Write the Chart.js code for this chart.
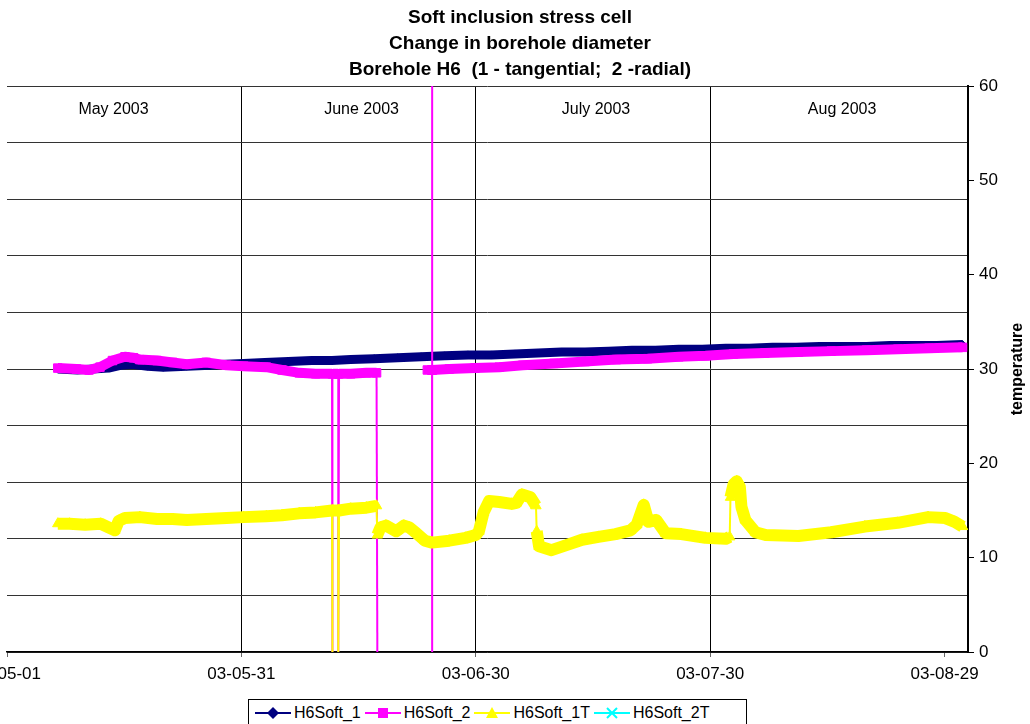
<!DOCTYPE html>
<html>
<head>
<meta charset="utf-8">
<script src="https://cdn.jsdelivr.net/npm/chart.js@4.4.0/dist/chart.umd.min.js"></script>
<style>
  body { margin: 0; width: 1030px; height: 724px; overflow: hidden; background: #fff; position: relative; }
  #chart1 { position: absolute; left: -60px; top: 0; }
  #legend {
    position: absolute; left: 248px; top: 699px; width: 499px; height: 40px;
    border: 1px solid #000; background: #fff; display: flex; align-items: flex-start;
    padding: 4px 0 0 6px; box-sizing: border-box;
    font: 16px "Liberation Sans", Arial, sans-serif; color: #000;
  }
  #legend span { display: inline-flex; align-items: center; margin-right: 4px; }
  #legend svg { margin-right: 3px; }
</style>
</head>
<body>
<canvas id="chart1" width="1160" height="724"></canvas>
<div id="legend">
  <span><svg width="36" height="14"><line x1="0" y1="7" x2="36" y2="7" stroke="#000080" stroke-width="2"/><polygon points="18,1 24,7 18,13 12,7" fill="#000080"/></svg>H6Soft_1</span>
  <span><svg width="36" height="14"><line x1="0" y1="7" x2="36" y2="7" stroke="#FF00FF" stroke-width="2"/><rect x="13" y="2" width="10" height="10" fill="#FF00FF"/></svg>H6Soft_2</span>
  <span><svg width="36" height="14"><line x1="0" y1="7" x2="36" y2="7" stroke="#FFFF00" stroke-width="2"/><polygon points="18,1 24,12 12,12" fill="#FFFF00"/></svg>H6Soft_1T</span>
  <span><svg width="36" height="14"><line x1="0" y1="7" x2="36" y2="7" stroke="#00FFFF" stroke-width="2"/><path d="M13 2 L23 12 M23 2 L13 12" stroke="#00FFFF" stroke-width="2"/></svg>H6Soft_2T</span>
</div>
<script>
// day 0 = 2003-05-01
const startDate = Date.UTC(2003, 4, 1);

const chartTitle = ['Soft inclusion stress cell', 'Change in borehole diameter', 'Borehole H6  (1 - tangential;  2 -radial)'];
const yTitle = 'temperature';
const monthLabels = ['May 2003', 'June 2003', 'July 2003', 'Aug 2003'];
const monthEdges = [-3.5, 30, 60, 90, 123];
const dividerDays = [30, 60, 90];

// H6Soft_1
const soft1Days = [6.5, 9, 11, 13, 14.5, 16, 18, 20, 23, 26, 28, 30.3, 33, 36, 39, 41.6, 44, 47, 50, 53,
  56, 59, 62, 65, 68, 71, 74, 77, 80, 83, 86, 89, 92, 95, 98, 101, 104, 107, 110, 113, 116, 119, 122.3];
const soft1Values = [30.0, 29.9, 30.0, 30.1, 30.4, 30.5, 30.3, 30.2, 30.3, 30.4, 30.5, 30.6, 30.7, 30.8, 30.9, 30.9, 31.0, 31.1, 31.2, 31.3,
  31.4, 31.5, 31.5, 31.6, 31.7, 31.8, 31.8, 31.9, 32.0, 32.0, 32.1, 32.1, 32.2, 32.2, 32.3, 32.3, 32.4, 32.4, 32.4, 32.5, 32.5, 32.5, 32.6];

// H6Soft_2
const soft2Days = [6.5, 8.9, 10.5, 11.9, 13.5, 15.1, 16.2, 17.0, 19.2, 21.2, 23.0, 25.5, 28.1, 30.3, 33.2, 35.2, 37.4, 39.5,
  41.6, 41.6, 41.7, 42.4, 42.4, 42.5, 44.0, 46.0, 47.3, 47.4, 50.0, 53.8, 54.4, 54.4, 54.4, 54.45, 56.6, 59.9,
  63.0, 66.0, 70.0, 74.0, 78.0, 82.0, 86.0, 89.4, 93.0, 97.0, 101.3, 105.5, 110.0, 114.0, 118.0, 122.3];
const soft2Values = [30.1, 30.0, 29.9, 30.2, 30.9, 31.3, 31.2, 31.0, 30.9, 30.7, 30.5, 30.7, 30.4, 30.3, 30.2, 29.9, 29.6, 29.5,
  29.5, 0, 29.5, 29.5, 0, 29.5, 29.5, 29.6, 29.6, 0, null, 29.9, 29.9, 0, 60.5, 29.9, 30.0, 30.1,
  30.2, 30.4, 30.6, 30.8, 31.0, 31.1, 31.3, 31.4, 31.6, 31.7, 31.8, 31.9, 32.0, 32.1, 32.2, 32.3];

// H6Soft_1T
const soft1TDays = [6.5, 8.0, 10.0, 12.0, 13.8, 14.3, 15.1, 17.0, 19.2, 21.2, 23.0, 25.5, 28.1, 30.3, 33.2, 35.2, 37.4, 39.5,
  41.6, 41.6, 41.7, 42.4, 42.4, 42.5, 44.0, 46.0, 47.3, 47.4, 47.8, 48.5, 49.8, 50.8, 51.5, 52.4, 53.5, 54.4,
  56.6, 58.7, 60.0, 60.4, 61.0, 61.7, 63.0, 64.6, 65.2, 65.9, 67.0, 67.7, 67.8, 68.1, 69.7, 71.5, 73.6, 75.7,
  77.9, 79.8, 80.6, 81.5, 82.1, 83.1, 84.3, 86.3, 89.4, 92.0, 92.5, 92.6, 93.0, 93.4, 93.8, 94.0, 94.5, 95.8,
  97.1, 101.3, 105.5, 109.8, 114.0, 117.9, 120.1, 121.3, 122.3];
const soft1TValues = [13.6, 13.6, 13.5, 13.6, 12.9, 13.9, 14.2, 14.3, 14.1, 14.1, 14.0, 14.1, 14.2, 14.3, 14.4, 14.5, 14.7, 14.8,
  15.0, 0, 15.0, 15.0, 0, 15.0, 15.2, 15.3, 15.5, 12.4, 13.2, 13.4, 12.8, 13.4, 13.2, 12.6, 11.8, 11.6,
  11.8, 12.1, 12.4, 12.8, 14.8, 16.0, 15.9, 15.7, 15.8, 16.7, 16.4, 15.5, 12.8, 11.2, 10.8, 11.3, 11.9, 12.2,
  12.5, 12.9, 13.5, 15.6, 13.8, 14.0, 12.6, 12.5, 12.1, 12.0, 12.2, 16.4, 17.8, 18.1, 17.5, 15.4, 14.0, 12.7,
  12.4, 12.3, 12.7, 13.3, 13.7, 14.3, 14.2, 13.8, 13.3];

// H6Soft_2T has no readings in this period
const soft2TDays = [];
const soft2TValues = [];

function toPoints(days, values) {
  return days.map((d, i) => ({ x: d, y: values[i] }));
}

function dayLabel(v) {
  const dt = new Date(startDate + v * 86400000);
  const yy = String(dt.getUTCFullYear()).slice(2);
  const mm = String(dt.getUTCMonth() + 1).padStart(2, '0');
  const dd = String(dt.getUTCDate()).padStart(2, '0');
  return yy + '-' + mm + '-' + dd;
}

// thick band for the logged trace, thin line where the reading jumps
function series(label, points, color, style, radius, thick, order) {
  return {
    label: label,
    data: points,
    borderColor: color,
    backgroundColor: color,
    pointStyle: style,
    pointRadius: (c) => {
      const v = c.raw ? c.raw.y : null;
      return (v === null || v <= 0 || v > 60) ? 0 : radius;
    },
    pointBorderWidth: 1,
    borderWidth: thick,
    borderJoinStyle: 'round',
    segment: {
      borderWidth: (c) => Math.abs(c.p1.x - c.p0.x) < 1.5 ? 2 : thick
    },
    spanGaps: false,
    tension: 0,
    order: order
  };
}

const bandLabels = {
  id: 'bandLabels',
  afterDraw(chart) {
    const { ctx, chartArea, scales } = chart;
    ctx.save();
    ctx.fillStyle = '#000';
    ctx.textAlign = 'center';
    ctx.textBaseline = 'middle';
    ctx.font = '16px "Liberation Sans", Arial, sans-serif';
    monthLabels.forEach((label, i) => {
      const mid = (monthEdges[i] + monthEdges[i + 1]) / 2;
      ctx.fillText(label, scales.x.getPixelForValue(mid) + 3, chartArea.top + 24);
    });
    ctx.translate(chartArea.right + 50, (chartArea.top + chartArea.bottom) / 2);
    ctx.rotate(-Math.PI / 2);
    ctx.font = 'bold 16px "Liberation Sans", Arial, sans-serif';
    ctx.fillText(yTitle, 0, 0);
    ctx.restore();
  }
};

Chart.defaults.font.family = '"Liberation Sans", Arial, sans-serif';
Chart.defaults.color = '#000';

new Chart(document.getElementById('chart1'), {
  type: 'line',
  data: {
    datasets: [
      series('H6Soft_1', toPoints(soft1Days, soft1Values), '#000080', 'rectRot', 4, 9, 4),
      series('H6Soft_2', toPoints(soft2Days, soft2Values), '#FF00FF', 'rect', 6, 10, 3),
      series('H6Soft_1T', toPoints(soft1TDays, soft1TValues), '#FFFF00', 'triangle', 6, 12, 2),
      series('H6Soft_2T', toPoints(soft2TDays, soft2TValues), '#00FFFF', 'crossRot', 5, 2, 1)
    ]
  },
  options: {
    responsive: false,
    devicePixelRatio: 1,
    animation: false,
    layout: { padding: 0 },
    plugins: {
      legend: { display: false },
      tooltip: { enabled: false },
      title: {
        display: true,
        text: chartTitle,
        color: '#000',
        font: { size: 19, weight: 'bold', lineHeight: 1.37 },
        padding: { top: 5, bottom: 3 }
      }
    },
    scales: {
      x: {
        type: 'linear',
        position: 'bottom',
        min: 0,
        max: 123,
        ticks: {
          stepSize: 30,
          includeBounds: false,
          autoSkip: false,
          maxRotation: 0,
          padding: 7,
          color: '#000',
          font: { size: 17 },
          callback: (v) => dayLabel(v)
        },
        grid: {
          color: (c) => (c.tick && dividerDays.includes(c.tick.value)) ? '#000' : 'rgba(0,0,0,0)',
          tickColor: '#666',
          tickLength: 5,
          lineWidth: 1
        },
        border: { color: '#000', width: 1.5 },
        afterFit: (s) => { s.height = 72; }
      },
      y: {
        position: 'right',
        min: 0,
        max: 60,
        ticks: { stepSize: 10, color: '#000', font: { size: 17 }, padding: 5 },
        grid: { drawOnChartArea: false, color: '#000', tickLength: 6 },
        border: { color: '#000', width: 2 },
        afterFit: (s) => { s.width = 132; }
      },
      y2: {
        position: 'left',
        min: 0,
        max: 10,
        ticks: { display: false, stepSize: 1 },
        grid: { color: '#333', drawTicks: false },
        border: { display: false },
        afterFit: (s) => { s.width = 67; }
      }
    }
  },
  plugins: [bandLabels]
});
</script>
</body>
</html>
